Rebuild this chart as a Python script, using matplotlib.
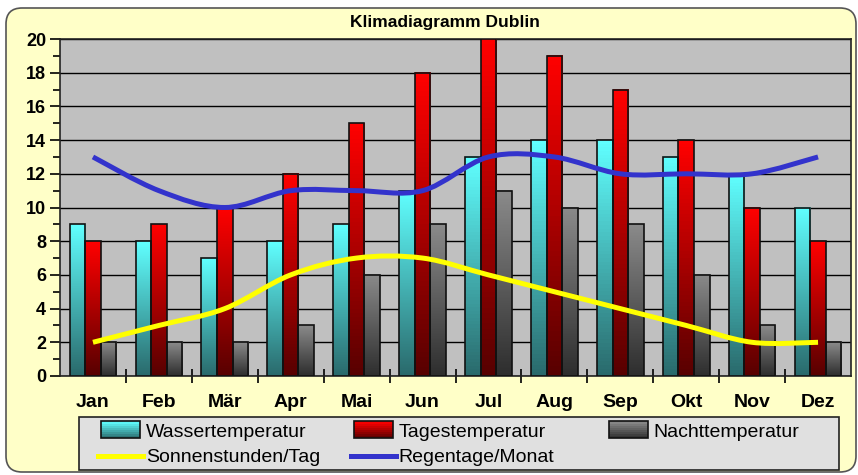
import numpy as np
import matplotlib
matplotlib.use("Agg")
import matplotlib.pyplot as plt
from matplotlib.patches import FancyBboxPatch, PathPatch, Rectangle
from matplotlib.path import Path
from matplotlib.colors import LinearSegmentedColormap
from matplotlib.transforms import IdentityTransform
from matplotlib.legend_handler import HandlerBase
from matplotlib.lines import Line2D

months = ["Jan", "Feb", "Mär", "Apr", "Mai", "Jun", "Jul", "Aug", "Sep", "Okt", "Nov", "Dez"]
wasser = [9, 8, 7, 8, 9, 11, 13, 14, 14, 13, 12, 10]
tages = [8, 9, 10, 12, 15, 18, 20, 19, 17, 14, 10, 8]
nacht = [2, 2, 2, 3, 6, 9, 11, 10, 9, 6, 3, 2]
sonne = [2, 3, 4, 6, 7, 7, 6, 5, 4, 3, 2, 2]
regen = [13, 11, 10, 11, 11, 11, 13, 13, 12, 12, 12, 13]

plt.rcParams['font.family'] = ['Liberation Sans', 'DejaVu Sans']

# bar colours: (top, bottom)
grad_cols = {
    "Wassertemperatur": ("#60ffff", "#2a6a6c"),
    "Tagestemperatur": ("#ff0000", "#580000"),
    "Nachttemperatur": ("#8a8a8a", "#2e2e2e"),
}

W, H = 858, 475
fig = plt.figure(figsize=(W / 100, H / 100), dpi=100)
fig.patch.set_facecolor("white")

# rounded yellow panel, in pixel units
panel = FancyBboxPatch((6, 3), 850, 464, boxstyle="round,pad=0,rounding_size=16",
                       transform=IdentityTransform(), facecolor="#ffffc8",
                       edgecolor="#555555", linewidth=1.2, zorder=-10)
fig.patches.append(panel)

ax = fig.add_axes([60 / W, (H - 376) / H, (851 - 60) / W, (376 - 39) / H])
ax.set_facecolor("#c0c0c0")

x = np.arange(len(months))
bw = 0.236


def gradient_bars(vals, offset, name):
    top, bottom = grad_cols[name]
    cmap = LinearSegmentedColormap.from_list(name, [bottom, top])
    bars = ax.bar(x + offset, vals, bw, facecolor="none", edgecolor="#111111",
                  linewidth=1.2, zorder=4)
    grad = np.linspace(0, 1, 64).reshape(-1, 1)
    for b in bars:
        x0, y0 = b.get_x(), b.get_y()
        ax.imshow(grad, cmap=cmap, aspect="auto", origin="lower",
                  extent=[x0, x0 + b.get_width(), y0, y0 + b.get_height()], zorder=3)
    return bars


gradient_bars(wasser, -bw, "Wassertemperatur")
gradient_bars(tages, 0, "Tagestemperatur")
gradient_bars(nacht, bw, "Nachttemperatur")
ax.set_xlim(-0.5, 11.5)
ax.set_ylim(0, 20)


def smooth_path(xs, ys):
    pts = np.column_stack([xs, ys]).astype(float)
    verts = [pts[0]]
    codes = [Path.MOVETO]
    n = len(pts)
    for i in range(n - 1):
        p0 = pts[i - 1] if i > 0 else pts[i]
        p1, p2 = pts[i], pts[i + 1]
        p3 = pts[i + 2] if i + 2 < n else pts[i + 1]
        verts += [p1 + (p2 - p0) / 6, p2 - (p3 - p1) / 6, p2]
        codes += [Path.CURVE4] * 3
    return Path(verts, codes)


for vals, col in [(sonne, "#ffff00"), (regen, "#3333cc")]:
    ax.add_patch(PathPatch(smooth_path(x, vals), facecolor="none", edgecolor=col,
                           linewidth=3.6, capstyle="butt", zorder=6))

# grid and ticks
ax.set_yticks(range(0, 21, 2))
ax.set_yticks(range(1, 20, 2), minor=True)
ax.yaxis.grid(True, which="major", color="black", linewidth=1.0)
ax.set_axisbelow(True)
ax.tick_params(axis="y", which="major", direction="out", length=7, width=1.2,
               labelsize=13, pad=3)
ax.tick_params(axis="y", which="minor", direction="out", length=5, width=1.2)
for t in ax.get_yticklabels():
    t.set_fontweight("bold")

ax.set_xticks(np.arange(0.5, 11.5, 1.0))
ax.set_xticklabels([])
ax.set_xticks(x, minor=True)
ax.set_xticklabels(months, minor=True, fontsize=14, fontweight="bold")
ax.tick_params(axis="x", which="major", direction="inout", length=10, width=1.2)
ax.tick_params(axis="x", which="minor", length=0, pad=13)

for s in ax.spines.values():
    s.set_color("#222222")
    s.set_linewidth(1.2)

fig.text(445 / W, 1 - 22 / H, "Klimadiagramm Dublin", ha="center", va="center",
         fontsize=12.5, fontweight="bold")


class GradHandler(HandlerBase):
    def create_artists(self, legend, orig, xd, yd, width, height, fontsize, trans):
        top, bottom = orig.get_facecolor(), orig.get_edgecolor()
        cmap = LinearSegmentedColormap.from_list("h", [bottom, top])
        arts = []
        n = 8
        h = 12
        x0 = -xd + 2
        w = width - 4
        y0 = -yd + (height - h) / 2
        for i in range(n):
            arts.append(Rectangle((x0, y0 + h * i / n), w, h / n,
                                  facecolor=cmap((i + 0.5) / n),
                                  edgecolor="none", transform=trans))
        arts.append(Rectangle((x0, y0), w, h, facecolor="none",
                              edgecolor="#111111", linewidth=1.2, transform=trans))
        return arts


def bar_handle(name):
    top, bottom = grad_cols[name]
    return Rectangle((0, 0), 1, 1, facecolor=top, edgecolor=bottom)


h_w = bar_handle("Wassertemperatur")
h_t = bar_handle("Tagestemperatur")
h_n = bar_handle("Nachttemperatur")
h_s = Line2D([], [], color="#ffff00", linewidth=3.6)
h_r = Line2D([], [], color="#3333cc", linewidth=3.6)

# legend frame
fig.patches.append(Rectangle((79, H - 470), 839 - 79, 470 - 417,
                             transform=IdentityTransform(), facecolor="#e0e0e0",
                             edgecolor="#222222", linewidth=1.2, zorder=5))

columns = [
    (98, [h_w, h_s], ["Wassertemperatur", "Sonnenstunden/Tag"]),
    (351, [h_t, h_r], ["Tagestemperatur", "Regentage/Monat"]),
    (606, [h_n], ["Nachttemperatur"]),
]
for xpx, hs, labels in columns:
    leg = fig.legend(hs, labels, handler_map={Rectangle: GradHandler()},
                     loc="upper left", bbox_to_anchor=(xpx / W, 1 - 423 / H),
                     fontsize=14, frameon=False, handlelength=2.3,
                     handleheight=0.7, handletextpad=0.15, borderpad=0,
                     labelspacing=0.42, borderaxespad=0)
    leg.set_zorder(6)

fig.savefig("out.png", dpi=100)
